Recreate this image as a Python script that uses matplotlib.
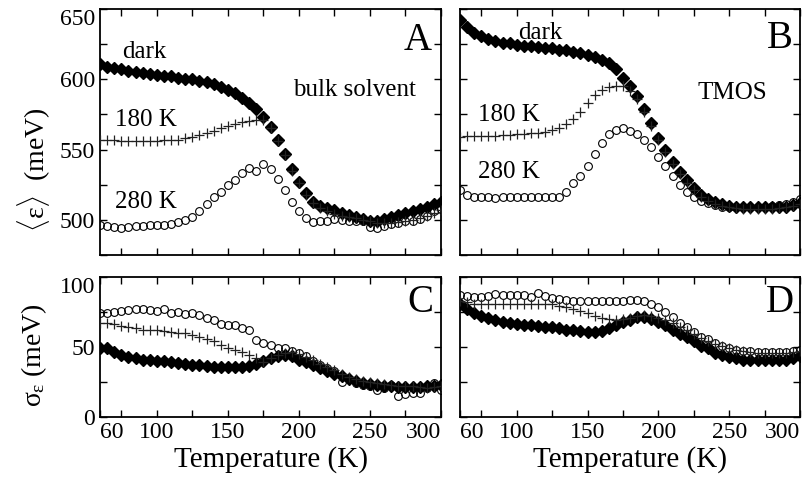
import numpy as np
import matplotlib
matplotlib.use("Agg")
import matplotlib.pyplot as plt
from matplotlib.ticker import MultipleLocator

plt.rcParams['font.family'] = ['Liberation Serif', 'DejaVu Serif']
# upright greek in the axis labels, like the original
plt.rcParams['mathtext.fontset'] = 'custom'
plt.rcParams['mathtext.rm'] = 'Liberation Serif'
plt.rcParams['mathtext.it'] = 'Liberation Serif'
plt.rcParams['mathtext.bf'] = 'Liberation Serif:bold'

# temperature grid (K), one point every 5 K
temp = np.arange(60, 301, 5)

# panel A: mean energy, bulk solvent (meV)
a_dark = [611, 609, 608, 607, 606, 605, 604.5, 604, 603, 602.5, 602, 601, 600.5, 600, 599, 598,
          596.5, 594.5, 592.5, 590, 587, 583, 579, 573, 566, 557, 547, 536, 527, 519, 513, 510,
          508.5, 507, 505, 503.5, 502, 500.5, 499.5, 499, 500.5, 502, 503.5, 505, 506, 507.5, 509, 511, 513]
a_180 = [557, 556.5, 556.5, 556, 556, 556, 556, 556, 556, 556.5, 557, 557, 558, 559, 560.5, 562,
         563.5, 565, 566.5, 568, 569.5, 570.5, 571, 571, 565, 556, 546, 535, 526, 518, 512, 508.5,
         506, 504, 503, 502, 501, 500, 499, 498, 497.5, 498, 498.5, 499, 500, 501, 503, 505, 507]
a_280 = [496, 495.5, 495, 494.5, 495, 495.5, 495.5, 496, 496, 496.5, 497, 498.5, 500, 502, 506.5, 511.5,
         516, 520, 524.5, 528.5, 533, 537, 535, 539.5, 536, 529, 521, 512.5, 506, 501, 498.5, 499,
         499.5, 500.5, 500, 499.5, 499.5, 499, 495, 494, 495.5, 497, 497.5, 499, 499.5, 500.5, 502.5, 506, 508]

# panel B: mean energy, TMOS (meV)
b_dark = [642, 637.5, 633, 630.5, 628.5, 627, 626, 625.5, 624.5, 624, 623.5, 623, 622.5, 622, 621, 620.5,
          619.5, 618.5, 617.5, 616, 614, 611.5, 607, 601, 595.5, 588, 579, 569, 558.5, 549.5, 541, 534,
          528, 522.5, 518, 515, 513, 511.5, 510, 509.5, 509, 509, 509, 509, 509, 509, 509.5, 510.5, 512]
b_180 = [559, 559.5, 559.5, 560, 560, 560, 560.5, 560.5, 561, 561, 561.5, 562, 562.5, 564, 565.5, 568,
         571.5, 577, 583, 588.5, 592.5, 594.5, 595, 595, 592, 586, 577, 567, 557, 548, 539.5, 532.5,
         526.5, 521, 516.5, 513.5, 511.5, 510, 509, 508.5, 508, 508, 508, 508, 508, 508.5, 509, 510, 511]
b_280 = [521, 518, 516.5, 516, 516, 515.5, 516, 516, 516, 516, 516, 516, 516, 516.5, 516.5, 520,
         526, 531.5, 538.5, 547, 555, 561, 564, 565, 563.5, 561, 557, 552, 545, 538, 531, 525,
         520, 516.5, 513.5, 512, 510.5, 509.5, 509.5, 509.5, 509.5, 509.5, 509.5, 509.5, 510, 510.5, 511.5, 512.5, 514.5]

# panel C: width, bulk solvent (meV)
c_dark = [49.5, 49, 46.5, 44.5, 43, 42, 41, 40.5, 40, 40, 39.5, 38.5, 38, 37.5, 37, 36.5,
          36, 35.5, 35.5, 35.5, 36, 36.5, 38, 40, 42, 43.5, 44.5, 43.5, 41, 39, 37, 35,
          33, 30.5, 29, 27, 25.5, 24.5, 23.5, 23, 22.5, 22, 21.5, 21.5, 21.5, 21.5, 22, 22.5, 23]
c_180 = [67, 67, 66.5, 65, 64, 63.5, 62.5, 62.5, 62, 61.5, 61, 60, 60, 58.5, 57, 55.5,
         54, 51.5, 49, 48, 46.5, 44.5, 42, 39.5, 42, 44.5, 46, 46.5, 45, 43, 40.5, 38,
         36, 33.5, 30.5, 28.5, 27, 25.5, 25, 24, 23.5, 23, 22.5, 22, 22, 21.5, 21, 21.5, 22]
c_280 = [74, 74.5, 75, 75.5, 76.5, 77.5, 77, 76.5, 76, 77, 74, 75, 73.5, 74, 73, 70.5,
         69, 66.5, 65.5, 65.5, 63.5, 62, 55, 53, 51.5, 49, 49, 47, 46, 43.5, 40, 37,
         35, 33, 25, 27.5, 24.5, 23, 22, 19, 21, 23, 15, 16.5, 17.5, 17.5, 20.5, 24, 19]

# panel D: width, TMOS (meV)
d_dark = [80.5, 77, 74.5, 72.5, 70.5, 69, 68, 67.5, 66.5, 66, 65.5, 65, 64.5, 64, 63.5, 62.5,
          62, 61.5, 60.5, 60.5, 61.5, 63.5, 66, 68, 69.5, 71.5, 71.5, 70, 68, 65.5, 62.5, 59.5,
          57, 54, 51, 49, 46, 44.5, 43, 42, 41, 40.5, 40.5, 40.5, 40.5, 40.5, 41, 42, 43.5]
d_180 = [83, 82, 81, 81, 81, 81, 81, 81, 81, 81, 81, 81, 81, 81, 79.5, 78.5,
         77, 75.5, 74, 72, 70.5, 70, 69.5, 70, 71, 72.5, 73, 72.5, 71, 69, 67, 64.5,
         62, 59, 56.5, 54.5, 52.5, 50.5, 49, 48, 47, 46.5, 46, 46, 46, 46, 46, 46.5, 47]
d_280 = [87.5, 86.5, 86, 85.5, 86.5, 88, 87, 87, 87.5, 87, 86, 88.5, 86.5, 85, 84, 83.5,
         83, 83, 83, 83, 83, 83, 83, 83, 83.5, 83.5, 83, 81, 78.5, 75, 71.5, 67.5,
         64, 60.5, 57.5, 55.5, 53, 51, 49.5, 48, 47.5, 47, 46.5, 46.5, 46.5, 46.5, 46.5, 47.5, 48]

W, H = 807, 487
fig = plt.figure(figsize=(W / 100, H / 100), dpi=100)


def box(x0, y0, x1, y1):
    # pixel box -> figure fraction
    return [x0 / W, 1 - y1 / H, (x1 - x0) / W, (y1 - y0) / H]


axA = fig.add_axes(box(100, 9, 441, 255))
axB = fig.add_axes(box(460, 9, 800, 255))
axC = fig.add_axes(box(100, 277, 441, 417))
axD = fig.add_axes(box(460, 277, 800, 417))

panels = [(axA, a_dark, a_180, a_280), (axB, b_dark, b_180, b_280),
          (axC, c_dark, c_180, c_280), (axD, d_dark, d_180, d_280)]

for ax, dark, k180, k280 in panels:
    ax.plot(temp, dark, ls='none', marker='D', ms=5.8, mfc='black', mec='black', zorder=3)
    ax.plot(temp, k280, ls='none', marker='o', ms=5.6, mfc='none', mec='black', mew=0.8, zorder=4)
    ax.plot(temp, k180, ls='none', marker='+', ms=6.5, mec='#222222', mew=0.9, zorder=5)
    ax.set_xlim(60, 300)
    ax.xaxis.set_major_locator(MultipleLocator(50))
    ax.xaxis.set_minor_locator(MultipleLocator(25))
    ax.yaxis.set_major_locator(MultipleLocator(50))
    ax.yaxis.set_minor_locator(MultipleLocator(25))
    ax.tick_params(which='both', direction='in', top=True, right=True, length=5, width=1, labelsize=17)
    for s in ax.spines.values():
        s.set_linewidth(1.3)

for ax in (axA, axB):
    ax.set_ylim(475, 650)
    ax.tick_params(labelbottom=False)
for ax in (axC, axD):
    ax.set_ylim(0, 100)
    ax.set_xticks([60, 100, 150, 200, 250, 300])
    ax.set_xlabel('Temperature (K)', fontsize=21, labelpad=2)
    labs = ax.get_xticklabels()
    labs[0].set_ha('left')
    labs[-1].set_ha('right')
for ax in (axB, axD):
    ax.tick_params(labelleft=False)

axA.set_yticks([500, 550, 600, 650])
axA.get_yticklabels()[-1].set_va('top')
axC.set_yticks([0, 50, 100])
axC.get_yticklabels()[-1].set_va('top')

fig.text(34 / W, 1 - 170 / H, r'$\langle\varepsilon\rangle$  (meV)', rotation=90,
         ha='center', va='center', fontsize=20)
fig.text(34 / W, 1 - 355 / H, r'$\sigma_{\varepsilon}$ (meV)', rotation=90,
         ha='center', va='center', fontsize=20)

tkw = dict(fontsize=18, va='center', ha='left')
fig.text(122 / W, 1 - 52 / H, 'dark', **tkw)
fig.text(115 / W, 1 - 120 / H, '180 K', **tkw)
fig.text(115 / W, 1 - 202 / H, '280 K', **tkw)
fig.text(293 / W, 1 - 90 / H, 'bulk solvent', **tkw)
fig.text(518 / W, 1 - 33 / H, 'dark', **tkw)
fig.text(478 / W, 1 - 115 / H, '180 K', **tkw)
fig.text(478 / W, 1 - 172 / H, '280 K', **tkw)
fig.text(697 / W, 1 - 93 / H, 'TMOS', **tkw)

lkw = dict(fontsize=28, va='center', ha='center')
fig.text(418 / W, 1 - 40 / H, 'A', **lkw)
fig.text(780 / W, 1 - 38 / H, 'B', **lkw)
fig.text(420 / W, 1 - 302 / H, 'C', **lkw)
fig.text(780 / W, 1 - 302 / H, 'D', **lkw)

fig.savefig('out.png', dpi=100)
